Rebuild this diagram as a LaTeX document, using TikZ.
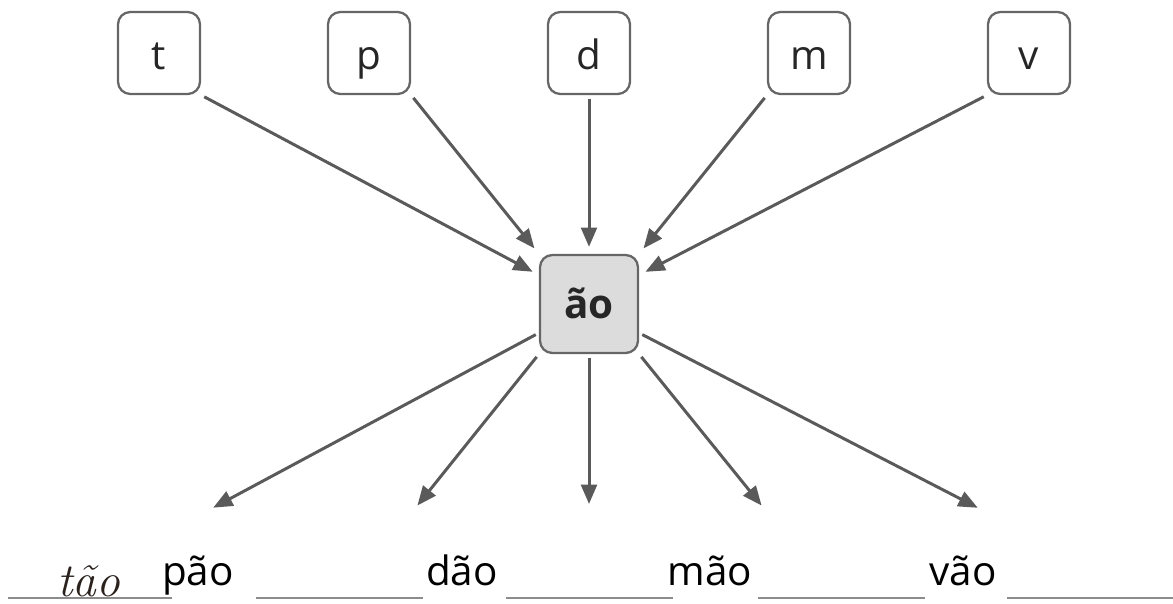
\documentclass[tikz,border=0pt]{standalone}
\usepackage{fontspec}
\newfontfamily\wordfont{Open Sans}
\usetikzlibrary{arrows.meta}
\definecolor{boxline}{HTML}{666666}
\definecolor{arrowgray}{HTML}{5A5A5A}
\definecolor{boxfill}{HTML}{DCDCDC}
\definecolor{blankgray}{HTML}{8C8C8C}
\definecolor{handink}{HTML}{2A211C}
\begin{document}
\begin{tikzpicture}[x=0.02cm,y=-0.02cm,
 letter/.style={draw=boxline,line width=1.3pt,rounded corners=7pt,minimum size=1.64cm,inner sep=0pt,text height=19pt,text depth=0pt,font=\wordfont\fontsize{23}{27}\selectfont,text=black!85},
 ending/.style={letter,fill=boxfill,minimum size=1.96cm,text height=17pt,text depth=0pt,font=\wordfont\bfseries\fontsize{23}{27}\selectfont},
 arr/.style={draw=arrowgray,line width=1.7pt,-{Triangle[length=11pt,width=9pt]},shorten <=2pt,shorten >=4pt},
 word/.style={anchor=base,inner sep=0pt,font=\wordfont\fontsize{23}{27}\selectfont},
 blank/.style={draw=blankgray,line width=1.1pt}]
\useasboundingbox(0,0)rectangle(1173,603);
\node[letter](lt)at(159,53){t};
\node[letter](lp)at(369,53){p};
\node[letter](ld)at(589,53){d};
\node[letter](lm)at(809,53){m};
\node[letter](lv)at(1029,53){v};
\node[ending](ao)at(589,304){ão};
\coordinate(e1)at(207,511);
\coordinate(e2)at(413,511);
\coordinate(e3)at(589,511);
\coordinate(e4)at(766,511);
\coordinate(e5)at(984,511);
\draw[arr](lt.south east)--(ao.150);
\draw[arr](lp.south east)--(ao.north west);
\draw[arr](ld.south)--(ao.north);
\draw[arr](lm.south west)--(ao.north east);
\draw[arr](lv.south west)--(ao.30);
\draw[arr](ao.210)--(e1);
\draw[arr](ao.south west)--(e2);
\draw[arr](ao.south)--(e3);
\draw[arr](ao.south east)--(e4);
\draw[arr](ao.330)--(e5);
\node[word,font=\itshape\fontsize{27}{31}\selectfont,text=handink](w0)at(89,596){tão};
\node[word](w1)at(198,585){pão};
\node[word](w2)at(462,585){dão};
\node[word](w3)at(710,585){mão};
\node[word](w4)at(963,585){vão};
\draw[blank](8,598)--(172,598);
\draw[blank](256,598)--(423,598);
\draw[blank](506,598)--(673,598);
\draw[blank](758,598)--(925,598);
\draw[blank](1007,598)--(1173,598);
\end{tikzpicture}
\end{document}
